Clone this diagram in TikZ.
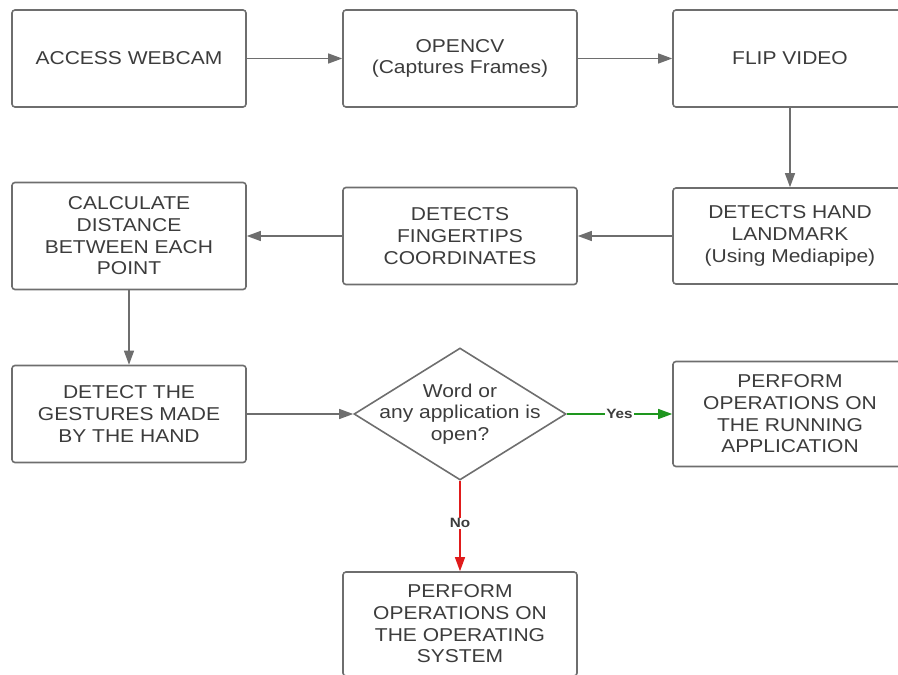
\documentclass[tikz,border=0pt]{standalone}
\usepackage{fontspec}
\setmainfont{Liberation Sans}[FakeStretch=1.13]
\usetikzlibrary{shapes.geometric,arrows.meta}
\definecolor{edgec}{HTML}{6E6E6E}
\definecolor{txt}{HTML}{3C3C3C}
\definecolor{yesg}{HTML}{1E961E}
\definecolor{nored}{HTML}{E01B1B}
\begin{document}
\begin{tikzpicture}[x=1pt,y=-1pt,
 box/.style={draw=edgec, line width=1.6pt, rounded corners=3pt, minimum width=234pt, minimum height=97pt, align=center, text=txt, font=\fontsize{18.6}{21.7}\selectfont, inner sep=0pt},
 flow/.style={draw=edgec, line width=1.3pt, -{Triangle[length=14pt,width=10pt]}},
 lbl/.style={font=\bfseries\fontsize{13.5}{15}\selectfont, text=txt, fill=white, inner sep=1pt}]
\useasboundingbox (0,0) rectangle (898,675);
\node[box] (b1) at (129,58.5) {ACCESS WEBCAM};
\node[box] (b2) at (460,58.5) {OPENCV\\(Captures Frames)};
\node[box] (b3) at (790,58.5) {FLIP VIDEO};
\node[box, minimum height=96pt] (hand) at (790,236) {DETECTS HAND\\LANDMARK\\(Using Mediapipe)};
\node[box] (finger) at (460,236) {DETECTS\\FINGERTIPS\\COORDINATES};
\node[box, minimum height=107pt] (calc) at (129,236) {CALCULATE\\DISTANCE\\BETWEEN EACH\\POINT};
\node[box] (gest) at (129,414) {DETECT THE\\GESTURES MADE\\BY THE HAND};
\node[diamond, draw=edgec, line width=1.6pt, minimum width=212pt, minimum height=132pt, inner sep=0pt] (dec) at (460,414) {};
\node[align=center, text=txt, font=\fontsize{18.6}{21.7}\selectfont] (dectext) at (dec.center) {Word or\\any application is\\open?};
\node[box, minimum height=105pt] (run) at (790,414) {PERFORM\\OPERATIONS ON\\THE RUNNING\\APPLICATION};
\node[box, minimum height=104pt] (os) at (460,624) {PERFORM\\OPERATIONS ON\\THE OPERATING\\SYSTEM};
\draw[flow] (b1.east) -- (b2.west);
\draw[flow] (b2.east) -- (b3.west);
\draw[flow] (b3.south) -- (hand.north);
\draw[flow] (hand.west) -- (finger.east);
\draw[flow] (finger.west) -- (calc.east);
\draw[flow] (calc.south) -- (gest.north);
\draw[flow] (gest.east) -- (dec.west);
\draw[flow, draw=yesg, -{Triangle[length=14pt,width=10pt,fill=yesg]}] (dec.east) -- node[lbl] {Yes} (run.west);
\draw[flow, draw=nored, -{Triangle[length=14pt,width=10pt,fill=nored]}] (dec.south) -- node[lbl, pos=0.47] {No} (os.north);
\end{tikzpicture}
\end{document}
